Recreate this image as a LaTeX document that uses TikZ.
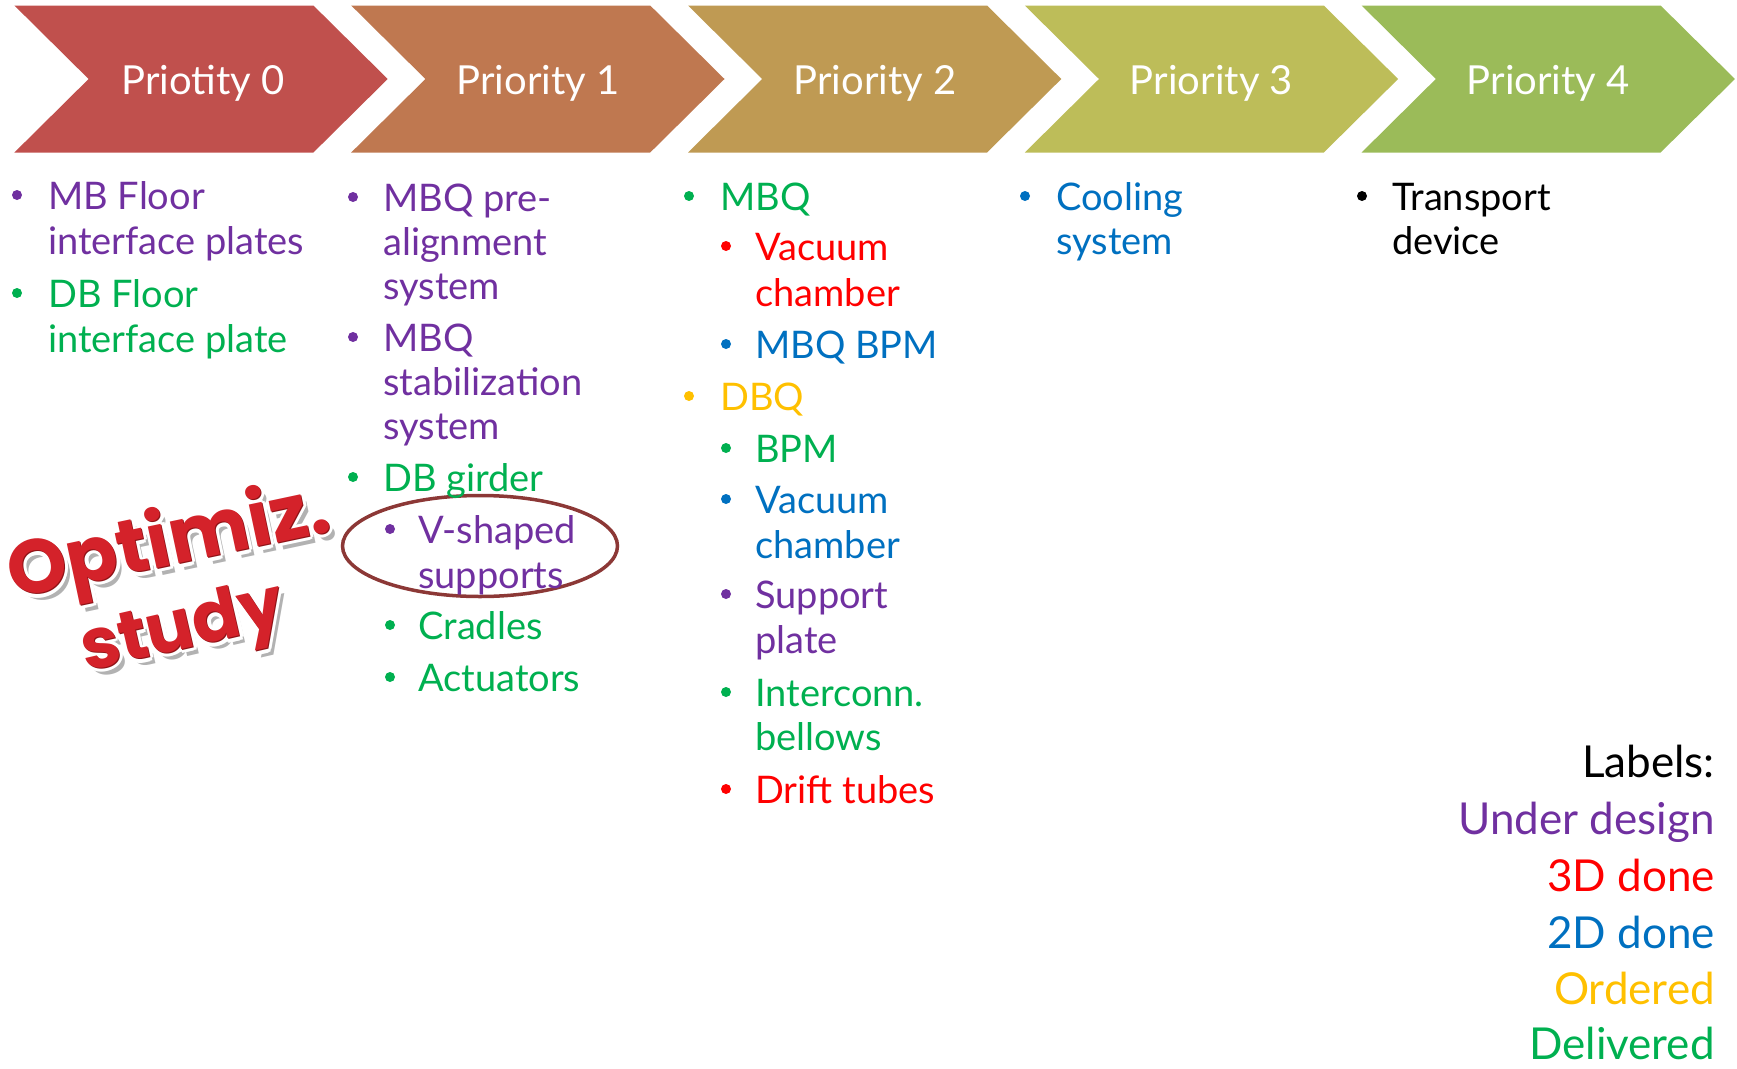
\documentclass[tikz,border=0pt]{standalone}
\usepackage{fontspec}
\setmainfont{Lato}
\newfontfamily\wafont{Poppins}
\usetikzlibrary{shapes.geometric}
\definecolor{cPa}{HTML}{C0504D}
\definecolor{cPb}{HTML}{BF7850}
\definecolor{cPc}{HTML}{BF9A53}
\definecolor{cPd}{HTML}{BDBD59}
\definecolor{cPe}{HTML}{9BBB59}
\definecolor{upurple}{HTML}{7030A0}
\definecolor{ured}{HTML}{FF0000}
\definecolor{ublue}{HTML}{0070C0}
\definecolor{uorange}{HTML}{FFC000}
\definecolor{ugreen}{HTML}{00B050}
\definecolor{ringcol}{HTML}{8C3836}
\definecolor{wared}{HTML}{D4222A}
\definecolor{wadark}{HTML}{8E1216}
\tikzset{
  lst/.style={font=\fontsize{38}{45}\selectfont, inner sep=0pt, anchor=base west},
  lbl/.style={font=\fontsize{44}{50}\selectfont, inner sep=0pt, anchor=base east},
  head/.style={font=\fontsize{40}{48}\selectfont, text=white, inner sep=0pt, anchor=base},
  wa/.style={font=\wafont\bfseries\fontsize{76}{80}\selectfont, inner sep=0pt, rotate=12},
  was/.style={font=\wafont\bfseries\fontsize{70}{80}\selectfont, inner sep=0pt, rotate=13},
}
\newcommand{\myitem}[5]{\node[lst,text=#4] (#1) at (#2,#3) {#5};}
\newcommand{\mybul}[3]{\fill[#3] (#1,#2-14) circle[radius=5pt];}
\begin{document}
\begin{tikzpicture}[x=1pt,y=-1pt]
\useasboundingbox (0,0) rectangle (1737,1068);
% chevrons
\foreach \k/\c in {0/cPa,1/cPb,2/cPc,3/cPd,4/cPe}{
  \pgfmathsetmacro\L{14.4+336.8*\k}
  \fill[\c] (\L,5.5) -- ++(299,0) -- ++(74.3,73.5) -- ++(-74.3,73.5) -- ++(-299,0) -- ++(74.2,-73.5) -- cycle;
}
\node[head] (h0) at (203,94) {Priotity 0};
\node[head] (h1) at (538,94) {Priority 1};
\node[head] (h2) at (875,94) {Priority 2};
\node[head] (h3) at (1211.5,94) {Priority 3};
\node[head] (h4) at (1548.3,94) {Priority 4};
% column 0
\mybul{17}{209}{upurple}
\myitem{a1}{48}{209}{upurple}{MB Floor}
\myitem{a2}{48}{254}{upurple}{interface plates}
\mybul{17}{307}{ugreen}
\myitem{a3}{48}{307}{ugreen}{DB Floor}
\myitem{a4}{48}{352}{ugreen}{interface plate}
% ring
\node[draw=ringcol, line width=3.5pt, ellipse, minimum width=275pt, minimum height=101pt, inner sep=0pt] (ring) at (480,546) {};
% column 1
\mybul{353}{211}{upurple}
\myitem{b1}{383}{211}{upurple}{MBQ pre-}
\myitem{b2}{383}{255}{upurple}{alignment}
\myitem{b3}{383}{299}{upurple}{system}
\mybul{353}{351}{upurple}
\myitem{b4}{383}{351}{upurple}{MBQ}
\myitem{b5}{383}{395}{upurple}{stabilization}
\myitem{b6}{383}{439}{upurple}{system}
\mybul{353}{491}{ugreen}
\myitem{b7}{383}{491}{ugreen}{DB girder}
\mybul{390}{543}{upurple}
\myitem{b8}{418}{543}{upurple}{V-shaped}
\myitem{b9}{418}{588}{upurple}{supports}
\mybul{390}{639}{ugreen}
\myitem{b10}{418}{639}{ugreen}{Cradles}
\mybul{390}{691}{ugreen}
\myitem{b11}{418}{691}{ugreen}{Actuators}
% column 2
\mybul{689}{210}{ugreen}
\myitem{c1}{720}{210}{ugreen}{MBQ}
\mybul{726}{260}{ured}
\myitem{c2}{755}{260}{ured}{Vacuum}
\myitem{c3}{755}{306}{ured}{chamber}
\mybul{726}{358}{ublue}
\myitem{c4}{755}{358}{ublue}{MBQ BPM}
\mybul{689}{410}{uorange}
\myitem{c5}{720}{410}{uorange}{DBQ}
\mybul{726}{462}{ugreen}
\myitem{c6}{755}{462}{ugreen}{BPM}
\mybul{726}{513}{ublue}
\myitem{c7}{755}{513}{ublue}{Vacuum}
\myitem{c8}{755}{558}{ublue}{chamber}
\mybul{726}{608}{upurple}
\myitem{c9}{755}{608}{upurple}{Support}
\myitem{c10}{755}{653}{upurple}{plate}
\mybul{726}{706}{ugreen}
\myitem{c11}{755}{706}{ugreen}{Interconn.}
\myitem{c12}{755}{750}{ugreen}{bellows}
\mybul{726}{803}{ured}
\myitem{c13}{755}{803}{ured}{Drift tubes}
% column 3
\mybul{1025}{210}{ublue}
\myitem{d1}{1056}{210}{ublue}{Cooling}
\myitem{d2}{1056}{254}{ublue}{system}
% column 4
\mybul{1362}{210}{black}
\myitem{e1}{1392}{210}{black}{Transport}
\myitem{e2}{1392}{254}{black}{device}
% labels
\node[lbl,text=black] (l0) at (1715,777) {Labels:};
\node[lbl,text=upurple] (l1) at (1715,834) {Under design};
\node[lbl,text=ured] (l2) at (1715,891) {3D done};
\node[lbl,text=ublue] (l3) at (1715,948) {2D done};
\node[lbl,text=uorange] (l4) at (1715,1004) {Ordered};
\node[lbl,text=ugreen] (l5) at (1715,1059) {Delivered};
% word art
\node[wa,text=black,opacity=0.3] (opts) at (175,552) {Optimiz.};
\node[was,text=black,opacity=0.3] (stus) at (189,639) {study};
\foreach \a in {0,45,...,315}{
  \node[wa,text=white] (opth\a) at ([shift={(\a:3.5)}]170,546) {Optimiz.};
  \node[was,text=white] (stuh\a) at ([shift={(\a:3.5)}]184,633) {study};
}
\node[wa,text=wadark] (optd) at (170,546) {Optimiz.};
\node[was,text=wadark] (stud) at (184,633) {study};
\node[wa,text=wared] (opt) at (169,544.8) {Optimiz.};
\node[was,text=wared] (stu) at (183,631.8) {study};
\end{tikzpicture}
\end{document}
